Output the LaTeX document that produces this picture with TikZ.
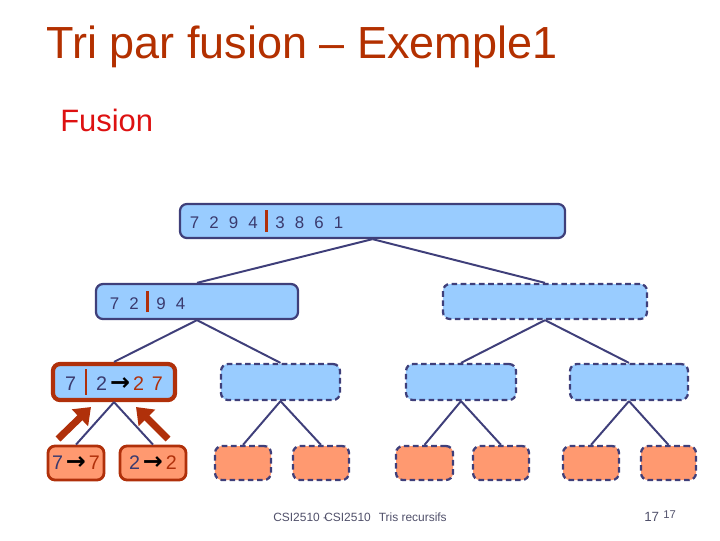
\documentclass[tikz,border=0pt]{standalone}
\usepackage{fontspec}
\setmainfont{Liberation Sans}
\newfontfamily\arrowfont{DejaVu Sans}
\usepackage{amsmath}
\usepackage{tikz}
\usetikzlibrary{positioning, arrows.meta}
\usepackage{xcolor}
\definecolor{fusNavy}{HTML}{3F3F7A}
\definecolor{fusBlue}{HTML}{99CCFF}
\definecolor{fusSalmon}{HTML}{FF9970}
\definecolor{fusRed}{HTML}{B0300A}
\definecolor{fusTitle}{HTML}{B33000}
\definecolor{fusFusion}{HTML}{DD1111}
\definecolor{fusText}{HTML}{3A3A6E}
\definecolor{fusFoot}{HTML}{50506A}

\newcommand{\esp}{\hspace{0.6em}}
\newcommand{\barre}{\hspace{0.45em}\textcolor{fusRed}{\rule[-0.2em]{1.6pt}{1.3em}}\hspace{0.45em}}
\newcommand{\fleche}{\hspace{0.15em}\textcolor{black}{\arrowfont\bfseries\fontsize{17}{18}\selectfont →}\hspace{0.15em}}
\newcommand{\res}[1]{\textcolor{fusRed}{#1}}

\begin{document}
\begin{tikzpicture}[
        x=0.025cm, y=-0.025cm,
        % Estilos de las cajas
        box/.style={
            rectangle,
            rounded corners=5pt,
            draw=fusNavy,
            line width=1.6pt,
            inner sep=0pt
        },
        blue/.style={box, fill=fusBlue},
        leaf/.style={box, fill=fusSalmon, minimum height=0.85cm},
        todo/.style={dash pattern=on 4pt off 2.5pt},
        done/.style={draw=fusRed, line width=2pt},
        digits/.style={font=\fontsize{12}{14}\selectfont, text=fusText},
        bigdigits/.style={font=\fontsize{14}{16}\selectfont, text=fusText},
        % Estilos de las flechas
        link/.style={draw=fusNavy, line width=1.4pt},
        back/.style={-{Triangle[width=16pt,length=11pt]}, line width=5pt, color=fusRed},
        foot/.style={font=\fontsize{8.5}{10}\selectfont, text=fusFoot, inner sep=0pt}
    ]
    \useasboundingbox (0,0) rectangle (720,540);

    % -- Titulos --
    \node[anchor=base west, inner sep=0pt, text=fusTitle, font=\fontsize{32}{36}\selectfont] (title) at (46,58) {Tri par fusion -- Exemple1};
    \node[anchor=base west, inner sep=0pt, text=fusFusion, font=\fontsize{22}{26}\selectfont] (sub) at (60,131) {Fusion};

    % -- Nivel 1 --
    \node[blue, digits, minimum width=9.625cm, minimum height=0.85cm, text width=9.125cm, align=left, inner xsep=0.25cm] (top) at (372.5,221) {7\esp 2\esp 9\esp 4\barre 3\esp 8\esp 6\esp 1};

    % -- Nivel 2 --
    \node[blue, digits, minimum width=5.05cm, minimum height=0.875cm, text width=4.35cm, align=left, inner xsep=0.35cm] (gl) at (197,301.5) {7\esp 2\barre 9\esp 4};
    \node[blue, todo, minimum width=5.1cm, minimum height=0.875cm] (gr) at (545,301.5) {};

    % -- Nivel 3 --
    \node[blue, done, line width=3pt, bigdigits, minimum width=3.05cm, minimum height=0.9cm] (ga) at (114,382) {7\barre 2\fleche\res{2\hspace{0.4em}7}};
    \node[blue, todo, minimum width=2.975cm, minimum height=0.9cm] (gb) at (280.5,382) {};
    \node[blue, todo, minimum width=2.75cm, minimum height=0.9cm] (gc) at (461,382) {};
    \node[blue, todo, minimum width=2.95cm, minimum height=0.9cm] (gd) at (629,382) {};

    % -- Nivel 4 (hojas) --
    \node[leaf, done, bigdigits, minimum width=1.4cm] (f1) at (76,463) {7\fleche\res{7}};
    \node[leaf, done, bigdigits, minimum width=1.65cm] (f2) at (153,463) {2\fleche\res{2}};
    \node[leaf, todo, minimum width=1.4cm] (f3) at (243,463) {};
    \node[leaf, todo, minimum width=1.4cm] (f4) at (321,463) {};
    \node[leaf, todo, minimum width=1.425cm] (f5) at (424.5,463) {};
    \node[leaf, todo, minimum width=1.4cm] (f6) at (501,463) {};
    \node[leaf, todo, minimum width=1.4cm] (f7) at (591,463) {};
    \node[leaf, todo, minimum width=1.375cm] (f8) at (668.5,463) {};

    % -- Conexiones del arbol --
    \draw[link] (top.south) -- (gl.north);
    \draw[link] (top.south) -- (gr.north);
    \draw[link] (gl.south) -- (ga.north);
    \draw[link] (gl.south) -- (gb.north);
    \draw[link] (gr.south) -- (gc.north);
    \draw[link] (gr.south) -- (gd.north);
    \draw[link] (ga.south) -- (f1.north);
    \draw[link] (ga.south) -- (f2.north);
    \draw[link] (gb.south) -- (f3.north);
    \draw[link] (gb.south) -- (f4.north);
    \draw[link] (gc.south) -- (f5.north);
    \draw[link] (gc.south) -- (f6.north);
    \draw[link] (gd.south) -- (f7.north);
    \draw[link] (gd.south) -- (f8.north);

    % -- Retorno de la fusion (flechas rojas) --
    \coordinate (rl0) at (58,439);
    \coordinate (rl1) at (91,407);
    \coordinate (rr0) at (168,439);
    \coordinate (rr1) at (136,407);
    \draw[back] (rl0) -- (rl1);
    \draw[back] (rr0) -- (rr1);

    % -- Pie de pagina --
    \node[foot, anchor=base west] (footl) at (273,521) {CSI2510 -};
    \node[foot, anchor=base west] (footm) at (324,521) {CSI2510};
    \node[foot, anchor=base east] (footr) at (447,521) {Tris recursifs};
    \node[foot, anchor=base west, font=\fontsize{9.5}{11}\selectfont] (page) at (644,521) {17};
    \node[foot, anchor=base west, font=\fontsize{8}{10}\selectfont] (page2) at (663,518) {17};

\end{tikzpicture}
\end{document}
